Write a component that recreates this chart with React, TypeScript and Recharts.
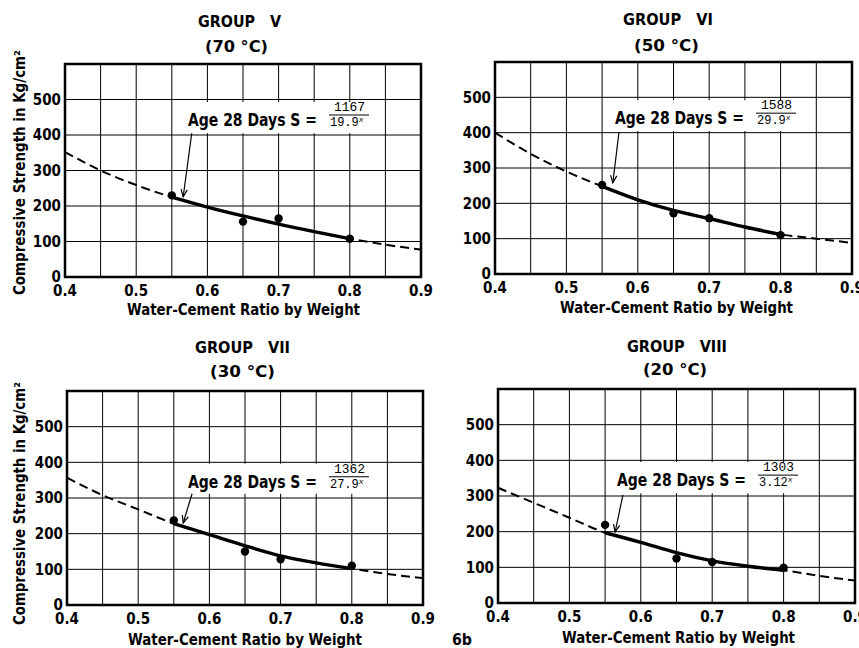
import React from 'react';
import { ComposedChart, Line, XAxis, YAxis, CartesianGrid, ReferenceArea, ReferenceLine } from 'recharts';

const xValues = [0.4, 0.45, 0.5, 0.55, 0.6, 0.65, 0.7, 0.75, 0.8, 0.85, 0.9];
const yTicks = [0, 100, 200, 300, 400, 500, 600];
const pointX = [0.55, 0.65, 0.7, 0.8];

const curveV = [352, 300, 259, 225, 197, 172, 149, 128, 108, 91, 77];
const pointsV = [230, 156, 165, 108];
const curveVI = [400, 340, 290, 248, 210, 180, 157, 133, 112, 100, 88];
const pointsVI = [252, 172, 158, 110];
const curveVII = [357, 308, 268, 228, 197, 166, 138, 118, 102, 87, 75];
const pointsVII = [237, 150, 128, 110];
const curveVIII = [323, 281, 239, 197, 170, 141, 118, 103, 92, 76, 63];
const pointsVIII = [219, 125, 115, 99];

const solidFrom = 0.55;
const solidTo = 0.8;

const FONT = '"DejaVu Sans Condensed", "DejaVu Sans", sans-serif';
const MONO = '"Liberation Mono", "DejaVu Sans Mono", monospace';

function buildRows(curve: number[], pts: number[]) {
  return xValues.map((x, i) => {
    const pi = pointX.findIndex((p) => Math.abs(p - x) < 1e-9);
    return {
      x,
      dash: curve[i],
      solid: x >= solidFrom - 1e-9 && x <= solidTo + 1e-9 ? curve[i] : null,
      pt: pi >= 0 ? pts[pi] : null,
    };
  });
}

const ArrowShape = (props: any) => {
  const { x1, y1, x2, y2 } = props;
  const ang = Math.atan2(y2 - y1, x2 - x1);
  const len = 8;
  const spread = 0.4;
  const ax = x2 - len * Math.cos(ang - spread);
  const ay = y2 - len * Math.sin(ang - spread);
  const bx = x2 - len * Math.cos(ang + spread);
  const by = y2 - len * Math.sin(ang + spread);
  return (
    <g>
      <line x1={x1} y1={y1} x2={x2} y2={y2} stroke="#000" strokeWidth={1.2} />
      <polyline points={`${ax},${ay} ${x2},${y2} ${bx},${by}`} fill="none" stroke="#000" strokeWidth={1.2} />
    </g>
  );
};

const makeAnnLabel = (num: string, den: string) => (p: any) => {
  const vb = p.viewBox || {};
  const x = (vb.x ?? 0) + 3;
  const y = vb.y ?? 0;
  return (
    <g>
      <text
        x={x}
        y={y + 24}
        fontFamily={FONT}
        fontWeight="bold"
        fontSize={17}
        fill="#000"
        textLength={129}
        lengthAdjust="spacingAndGlyphs"
      >
        Age 28 Days S =
      </text>
      <text x={x + 146} y={y + 9} fontFamily={MONO} fontSize={12} fill="#000" textLength={31} lengthAdjust="spacingAndGlyphs">
        {num}
      </text>
      <line x1={x + 141} x2={x + 181} y1={y + 13} y2={y + 13} stroke="#000" strokeWidth={1} />
      <text x={x + 142} y={y + 24} fontFamily={MONO} fontSize={12} fill="#000">
        {den}
        <tspan dy={-4} fontSize={8} fontStyle="italic">x</tspan>
      </text>
    </g>
  );
};

type PanelProps = {
  box: [number, number, number, number];
  plot: [number, number, number, number];
  curve: number[];
  pts: number[];
  ann: { x1: number; x2: number; y1: number; y2: number; num: string; den: string };
  arrow: [number, number, number, number];
};

const Panel = ({ box, plot, curve, pts, ann, arrow }: PanelProps) => {
  const [cx, cy, cw, ch] = box;
  const [l, t, r, b] = plot;
  const rows = buildRows(curve, pts);
  const tickStyle = { fontSize: 15, fill: '#000', fontFamily: FONT, fontWeight: 'bold' } as any;
  return (
    <div style={{ position: 'absolute', left: cx, top: cy, width: cw, height: ch }}>
      <ComposedChart
        width={cw}
        height={ch}
        data={rows}
        margin={{ top: t - cy, right: cx + cw - r, bottom: 0, left: 0 }}
      >
        <CartesianGrid stroke="#000" strokeWidth={1} />
        <XAxis
          type="number"
          dataKey="x"
          domain={[0.4, 0.9]}
          ticks={xValues}
          interval={0}
          allowDataOverflow
          height={cy + ch - b}
          tickLine={false}
          tickSize={6}
          tickMargin={2}
          axisLine={{ stroke: '#000', strokeWidth: 2 }}
          tick={tickStyle}
          tickFormatter={(v: number) => (Math.round(v * 100) % 10 === 0 ? v.toFixed(1) : '')}
        />
        <YAxis
          type="number"
          domain={[0, 600]}
          ticks={yTicks}
          interval={0}
          width={l - cx}
          tickLine={false}
          tickSize={2}
          tickMargin={2}
          axisLine={{ stroke: '#000', strokeWidth: 2 }}
          tick={tickStyle}
          tickFormatter={(v: number) => (v === 600 ? '' : String(v))}
        />
        <ReferenceArea
          x1={ann.x1}
          x2={ann.x2}
          y1={ann.y1}
          y2={ann.y2}
          fill="#fff"
          fillOpacity={1}
          stroke="none"
          label={makeAnnLabel(ann.num, ann.den)}
        />
        <Line
          type="monotone"
          dataKey="dash"
          stroke="#000"
          strokeWidth={2}
          strokeDasharray="9 5"
          dot={false}
          activeDot={false}
          isAnimationActive={false}
        />
        <Line
          type="monotone"
          dataKey="solid"
          stroke="#000"
          strokeWidth={3.4}
          dot={false}
          activeDot={false}
          connectNulls={false}
          isAnimationActive={false}
        />
        <Line
          dataKey="pt"
          stroke="none"
          dot={{ r: 4.2, fill: '#000', stroke: '#000', strokeWidth: 0 }}
          activeDot={false}
          isAnimationActive={false}
        />
        <ReferenceLine
          segment={[
            { x: arrow[0], y: arrow[1] },
            { x: arrow[2], y: arrow[3] },
          ]}
          stroke="#000"
          shape={ArrowShape}
        />
        <ReferenceArea x1={0.4} x2={0.9} y1={0} y2={600} fill="none" stroke="#000" strokeWidth={2.5} />
      </ComposedChart>
    </div>
  );
};

const T = ({ x, y, len, size = 16, rotate, children }: any) => (
  <text
    x={x}
    y={y}
    fontFamily={FONT}
    fontWeight="bold"
    fontSize={size}
    fill="#000"
    textLength={len}
    lengthAdjust="spacingAndGlyphs"
    transform={rotate ? `rotate(${rotate} ${x} ${y})` : undefined}
  >
    {children}
  </text>
);

const NB = '\u00a0';

export default function App() {
  return (
    <div style={{ position: 'absolute', left: 0, top: 0, width: 859, height: 648, background: '#fff', overflow: 'hidden' }}>
      <style>{'.recharts-surface{overflow:visible}'}</style>
      <Panel
        box={[0, 0, 430, 320]}
        plot={[65, 64, 421, 277]}
        curve={curveV}
        pts={pointsV}
        ann={{ x1: 0.5685, x2: 0.831, y1: 405, y2: 493, num: '1167', den: '19.9' }}
        arrow={[0.578, 405, 0.566, 226]}
      />
      <Panel
        box={[430, 0, 429, 320]}
        plot={[495, 62, 852, 274]}
        curve={curveVI}
        pts={pointsVI}
        ann={{ x1: 0.5639, x2: 0.827, y1: 405, y2: 492, num: '1588', den: '29.9' }}
        arrow={[0.5737, 402, 0.565, 258]}
      />
      <Panel
        box={[0, 320, 430, 328]}
        plot={[67, 391, 423, 605]}
        curve={curveVII}
        pts={pointsVII}
        ann={{ x1: 0.5657, x2: 0.8298, y1: 312, y2: 396, num: '1362', den: '27.9' }}
        arrow={[0.5756, 312, 0.5632, 230]}
      />
      <Panel
        box={[430, 320, 429, 328]}
        plot={[498, 389, 855, 603]}
        curve={curveVIII}
        pts={pointsVIII}
        ann={{ x1: 0.5625, x2: 0.834, y1: 308, y2: 395, num: '1303', den: '3.12' }}
        arrow={[0.575, 303, 0.564, 199]}
      />

      <svg width={859} height={648} style={{ position: 'absolute', left: 0, top: 0, pointerEvents: 'none' }}>
        <T x={198} y={27} len={83}>{`GROUP${NB}${NB}${NB}V`}</T>
        <T x={205} y={52} len={63}>{`(70 °C)`}</T>
        <T x={623} y={25} len={90}>{`GROUP${NB}${NB}${NB}VI`}</T>
        <T x={634} y={51} len={65}>{`(50 °C)`}</T>
        <T x={195} y={353} len={95}>{`GROUP${NB}${NB}${NB}VII`}</T>
        <T x={210} y={377} len={65}>{`(30 °C)`}</T>
        <T x={627} y={352} len={100}>{`GROUP${NB}${NB}${NB}VIII`}</T>
        <T x={643} y={375} len={64}>{`(20 °C)`}</T>

        <T x={127} y={315} len={233}>Water-Cement Ratio by Weight</T>
        <T x={560} y={313} len={233}>Water-Cement Ratio by Weight</T>
        <T x={128} y={645} len={234}>Water-Cement Ratio by Weight</T>
        <T x={562} y={643} len={233}>Water-Cement Ratio by Weight</T>
        <T x={452} y={645} len={20}>6b</T>

        <T x={25} y={295} len={245} rotate={-90}>Compressive Strength in Kg/cm²</T>
        <T x={25} y={625} len={243} rotate={-90}>Compressive Strength in Kg/cm²</T>
      </svg>
    </div>
  );
}
